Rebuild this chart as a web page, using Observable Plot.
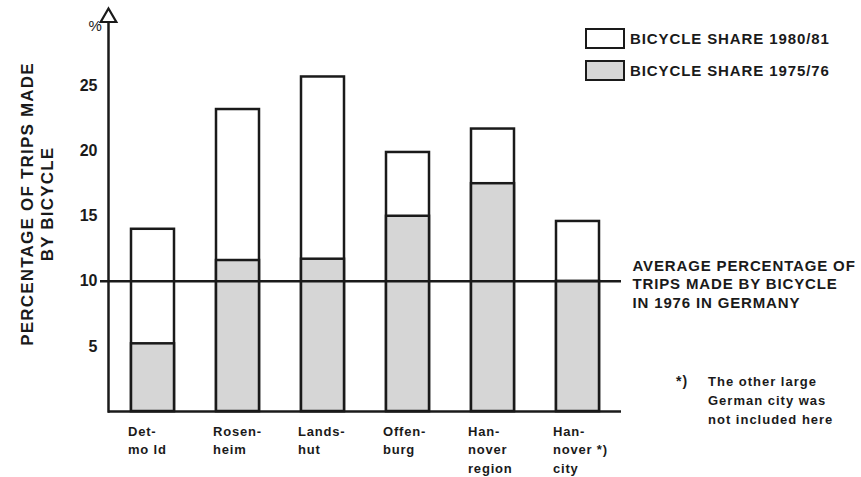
<!DOCTYPE html>
<html>
<head>
<meta charset="utf-8">
<script src="https://cdn.jsdelivr.net/npm/d3@7"></script>
<script src="https://cdn.jsdelivr.net/npm/@observablehq/plot@0.6"></script>
<style>
  html, body { margin: 0; padding: 0; background: #fff; }
  #wrap { position: relative; width: 861px; height: 477px; font-family: "Liberation Sans", Arial, Helvetica, sans-serif; color: #1a1a1a; }
  #wrap svg { position: absolute; left: 0; top: 0; overflow: visible; }
  .leg { position: absolute; left: 585px; display: flex; align-items: center; font-weight: bold; font-size: 15px; letter-spacing: 0.9px; }
  .leg .box { width: 36px; height: 17px; border: 2.5px solid #1a1a1a; margin-right: 5px; box-sizing: content-box; }
  .foot { position: absolute; font-weight: bold; font-size: 13px; letter-spacing: 1px; line-height: 19px; }
</style>
</head>
<body>
<div id="wrap"></div>
<script>
const cities = ["Detmold", "Rosenheim", "Landshut", "Offenburg", "Hannover region", "Hannover city"];
const cityLabels = ["Det-\nmo ld", "Rosen-\nheim", "Lands-\nhut", "Offen-\nburg", "Han-\nnover\nregion", "Han-\nnover *)\ncity"];
const share1980 = [14.0, 23.2, 25.7, 19.9, 21.7, 14.6];
const share1975 = [5.2, 11.6, 11.7, 15.0, 17.5, 10.0];
const average1976 = 10;
const yTicks = [5, 10, 15, 20, 25];
const legendLabels = ["BICYCLE SHARE 1980/81", "BICYCLE SHARE 1975/76"];
const averageLabel = "AVERAGE PERCENTAGE OF\nTRIPS MADE BY BICYCLE\nIN 1976 IN GERMANY";
const yTitle = "PERCENTAGE OF TRIPS MADE\nBY BICYCLE";
const footnote = ["The other large", "German city was", "not included here"];

const ink = "#1a1a1a";
const grayFill = "#d6d6d6";
const rows = cities.map((c, i) => ({city: c, label: cityLabels[i], v1980: share1980[i], v1975: share1975[i]}));

const chart = Plot.plot({
  width: 861,
  height: 477,
  marginLeft: 108,
  marginRight: 240,
  marginTop: 14,
  marginBottom: 66,
  style: {fontFamily: "'Liberation Sans', Arial, Helvetica, sans-serif", color: ink, background: "transparent", overflow: "visible"},
  x: {domain: cities, paddingInner: 0.5, paddingOuter: 0.25, axis: null},
  y: {domain: [0, 30.5], axis: null},
  marks: [
    Plot.barY(rows, {x: "city", y: "v1980", fill: "white", stroke: ink, strokeWidth: 2.5}),
    Plot.barY(rows, {x: "city", y: "v1975", fill: grayFill, stroke: ink, strokeWidth: 2.5}),
    Plot.ruleY([average1976], {stroke: ink, strokeWidth: 2.5, insetLeft: -8}),
    Plot.ruleY([0], {stroke: ink, strokeWidth: 2.5}),
    Plot.frame({anchor: "left", stroke: ink, strokeWidth: 2.5}),
    Plot.dot([0], {frameAnchor: "top-left", symbol: "triangle", r: 5.8, fill: "white", stroke: ink, strokeWidth: 2.2, dy: 3}),
    Plot.axisY({ticks: yTicks, tickSize: 0, tickPadding: 11, fontSize: 16, fontWeight: "bold", label: null, tickFormat: d => d}),
    Plot.text(["%"], {frameAnchor: "top-left", dx: -20, dy: 6, fontSize: 15, text: d => d}),
    Plot.text(rows, {x: "city", text: "label", frameAnchor: "bottom", textAnchor: "start", lineAnchor: "top", dx: -25, dy: 11, fontSize: 13, fontWeight: "bold", lineHeight: 1.42}),
    Plot.text([yTitle], {frameAnchor: "left", rotate: -90, textAnchor: "middle", lineAnchor: "middle", dx: -72, dy: -9, fontSize: 17, fontWeight: "bold", lineHeight: 1.15, text: d => d}),
    Plot.text([average1976], {y: d => d, text: () => averageLabel, frameAnchor: "right", textAnchor: "start", lineAnchor: "middle", dx: 11, dy: 2, fontSize: 15, fontWeight: "bold", lineHeight: 1.23})
  ]
});

const wrap = document.getElementById("wrap");
wrap.appendChild(chart);

// letter spacing for text marks (Plot's text options have no letterSpacing)
const spacingByFirstLine = new Map([
  [yTitle.split("\n")[0], "1.2px"],
  [averageLabel.split("\n")[0], "0.85px"]
]);
d3.select(chart).selectAll("text").each(function () {
  const first = this.querySelector("tspan") ? this.querySelector("tspan").textContent : this.textContent;
  if (spacingByFirstLine.has(first)) this.style.letterSpacing = spacingByFirstLine.get(first);
  else if (cityLabels.some(l => l.split("\n")[0] === first)) this.style.letterSpacing = "0.8px";
});

// legend overlay
const legendTops = [28, 60];
const legendFills = ["white", grayFill];
legendLabels.forEach((lab, i) => {
  const d = document.createElement("div");
  d.className = "leg";
  d.style.top = legendTops[i] + "px";
  const b = document.createElement("div");
  b.className = "box";
  b.style.background = legendFills[i];
  const t = document.createElement("span");
  t.textContent = lab;
  d.appendChild(b);
  d.appendChild(t);
  wrap.appendChild(d);
});

// footnote overlay
const star = document.createElement("div");
star.className = "foot";
star.style.left = "676px";
star.style.top = "372px";
star.style.fontSize = "14px";
star.textContent = "*)";
wrap.appendChild(star);
const fn = document.createElement("div");
fn.className = "foot";
fn.style.left = "708px";
fn.style.top = "372px";
fn.innerHTML = footnote.join("<br>");
wrap.appendChild(fn);
</script>
</body>
</html>
